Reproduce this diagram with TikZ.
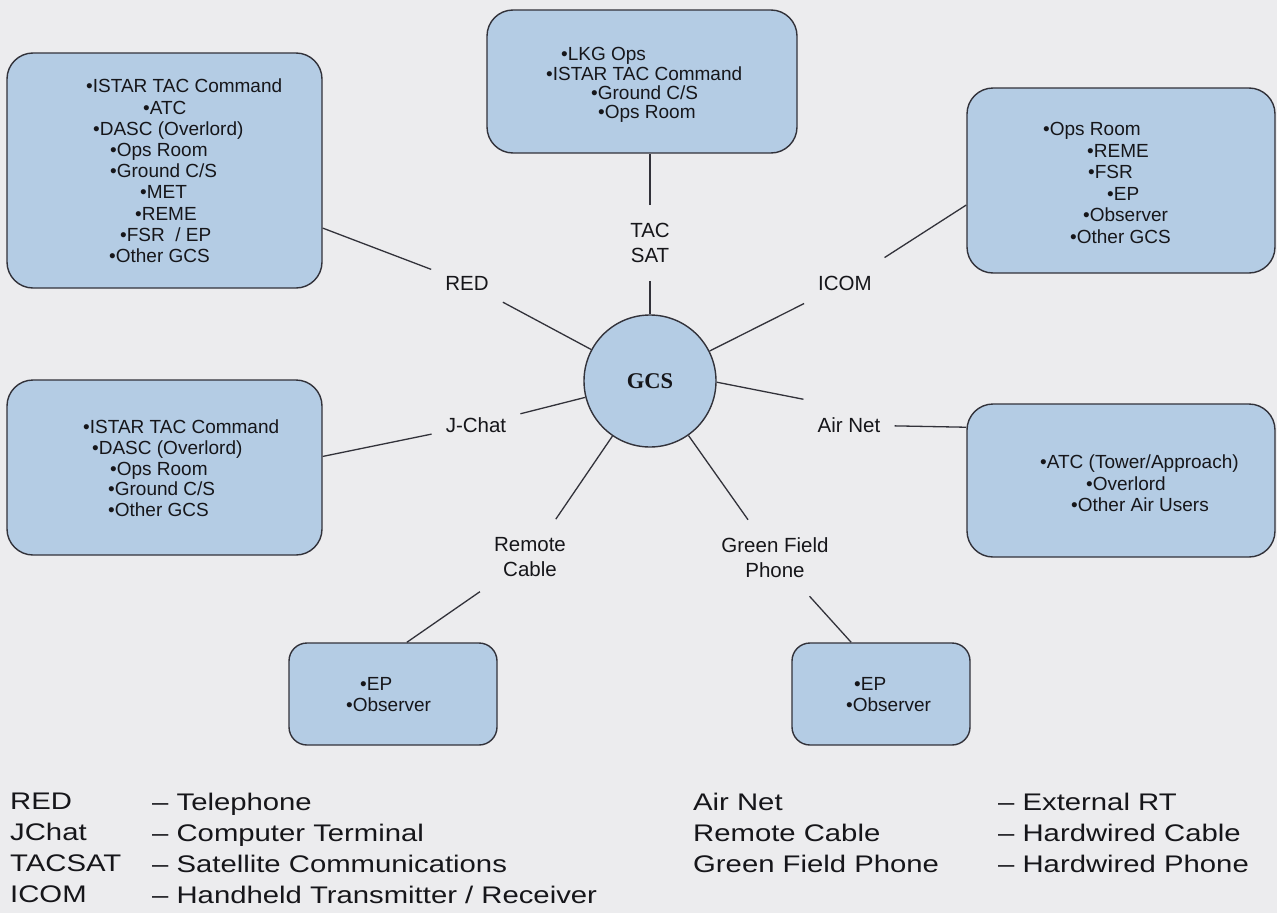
\documentclass[tikz,border=0pt]{standalone}
\usepackage{fontspec}
\setmainfont{Liberation Sans}
\newfontfamily\gcsfont{Liberation Serif}
\newfontfamily\legendfont[FakeStretch=1.22]{Liberation Sans}
\definecolor{pagebg}{RGB}{236,236,238}
\definecolor{boxblue}{RGB}{180,204,228}
\definecolor{edgecol}{RGB}{50,50,58}
\definecolor{ink}{RGB}{22,22,26}
\tikzset{
  bigbox/.style={draw=edgecol, line width=1.4pt, fill=boxblue, rounded corners=26pt, inner sep=0pt},
  smallbox/.style={draw=edgecol, line width=1.4pt, fill=boxblue, rounded corners=18pt, inner sep=0pt},
  boxtext/.style={anchor=north west, inner sep=0pt, align=left, text=ink, font=\fontsize{19}{#1}\selectfont},
  lbl/.style={text=ink, font=\fontsize{20.5}{25}\selectfont, align=center, inner xsep=14pt, inner ysep=18pt},
  conn/.style={draw=edgecol, line width=1.3pt},
  legtext/.style={anchor=north west, inner sep=0pt, align=left, text=ink, font=\legendfont\fontsize{24}{31}\selectfont}
}
\begin{document}
\begin{tikzpicture}[x=1pt,y=-1pt]
\path[use as bounding box, fill=pagebg] (0,0) rectangle (1277,913);

% boxes
\node[bigbox, minimum width=315pt, minimum height=235pt] (box1) at (164.5,170.5) {};
\node[bigbox, minimum width=310pt, minimum height=143pt] (box2) at (642,81.5) {};
\node[bigbox, minimum width=308pt, minimum height=185pt] (box3) at (1121,180.5) {};
\node[bigbox, minimum width=315pt, minimum height=175pt] (box4) at (164.5,467.5) {};
\node[bigbox, minimum width=308pt, minimum height=153pt] (box5) at (1121,480.5) {};
\node[smallbox, minimum width=208pt, minimum height=102pt] (box6) at (393,694) {};
\node[smallbox, minimum width=178pt, minimum height=102pt] (box7) at (881,694) {};

% box texts
\node[boxtext=21.2] (t1) at (86,79) {•ISTAR TAC Command\\ \hspace*{57pt}•ATC\\ \hspace*{7pt}•DASC (Overlord)\\ \hspace*{24pt}•Ops Room\\ \hspace*{24pt}•Ground C/S\\ \hspace*{54pt}•MET\\ \hspace*{49pt}•REME\\ \hspace*{34pt}•FSR\ \ / EP\\ \hspace*{23pt}•Other GCS};
\node[boxtext=19.3] (t2) at (546,47.5) {\hspace*{15pt}•LKG Ops\\ •ISTAR TAC Command\\ \hspace*{45pt}•Ground C/S\\ \hspace*{52pt}•Ops Room};
\node[boxtext=21.5] (t3) at (1043,122.5) {•Ops Room\\ \hspace*{44pt}•REME\\ \hspace*{45pt}•FSR\\ \hspace*{64pt}•EP\\ \hspace*{40pt}•Observer\\ \hspace*{27pt}•Other GCS};
\node[boxtext=20.8] (t4) at (83,419.5) {•ISTAR TAC Command\\ \hspace*{9pt}•DASC (Overlord)\\ \hspace*{27pt}•Ops Room\\ \hspace*{25pt}•Ground C/S\\ \hspace*{25pt}•Other GCS};
\node[boxtext=21.5] (t5) at (1040,455) {•ATC (Tower/Approach)\\ \hspace*{46pt}•Overlord\\ \hspace*{31pt}•Other Air Users};
\node[boxtext=21] (t6) at (346,677) {\hspace*{14pt}•EP\\ •Observer};
\node[boxtext=21] (t7) at (846,677) {\hspace*{8pt}•EP\\ •Observer};

% centre
\node[circle, draw=edgecol, line width=1.4pt, fill=boxblue, minimum size=132pt, inner sep=0pt, text=ink, font=\gcsfont\bfseries\fontsize{22.5}{26}\selectfont] (gcs) at (650,381) {GCS};

% labels
\node[lbl] (red) at (467,283) {RED};
\node[lbl] (tacsat) at (650,243) {TAC\\SAT};
\node[lbl] (icom) at (845,283) {ICOM};
\node[lbl] (jchat) at (476,425) {J-Chat};
\node[lbl] (airnet) at (849,425) {Air Net};
\node[lbl] (remote) at (530,557) {Remote\\Cable};
\node[lbl] (green) at (775,558) {Green Field\\Phone};

% connectors
\draw[conn] (red) -- (box1.-20);
\draw[conn] (red) -- (gcs);
\draw[conn] (tacsat) -- (tacsat |- box2.south);
\draw[conn] (tacsat) -- (gcs);
\draw[conn] (icom) -- (box3.189);
\draw[conn] (icom) -- (gcs);
\draw[conn] (jchat) -- (box4.4);
\draw[conn] (jchat) -- (gcs);
\draw[conn] (gcs.-1) -- (airnet.north west);
\draw[conn] (airnet) -- (box5.161);
\draw[conn] (remote) -- (gcs);
\draw[conn] (remote) -- (box6.75);
\draw[conn] (green) -- (gcs);
\draw[conn] (green) -- (box7.120);

% legend
\node[legtext] (leg1) at (10,793) {RED\\JChat\\TACSAT\\ICOM};
\node[legtext] (leg2) at (152,793) {– Telephone\\– Computer Terminal\\– Satellite Communications\\– Handheld Transmitter / Receiver};
\node[legtext] (leg3) at (693,793) {Air Net\\Remote Cable\\Green Field Phone};
\node[legtext] (leg4) at (998,793) {– External RT\\– Hardwired Cable\\– Hardwired Phone};
\end{tikzpicture}
\end{document}
